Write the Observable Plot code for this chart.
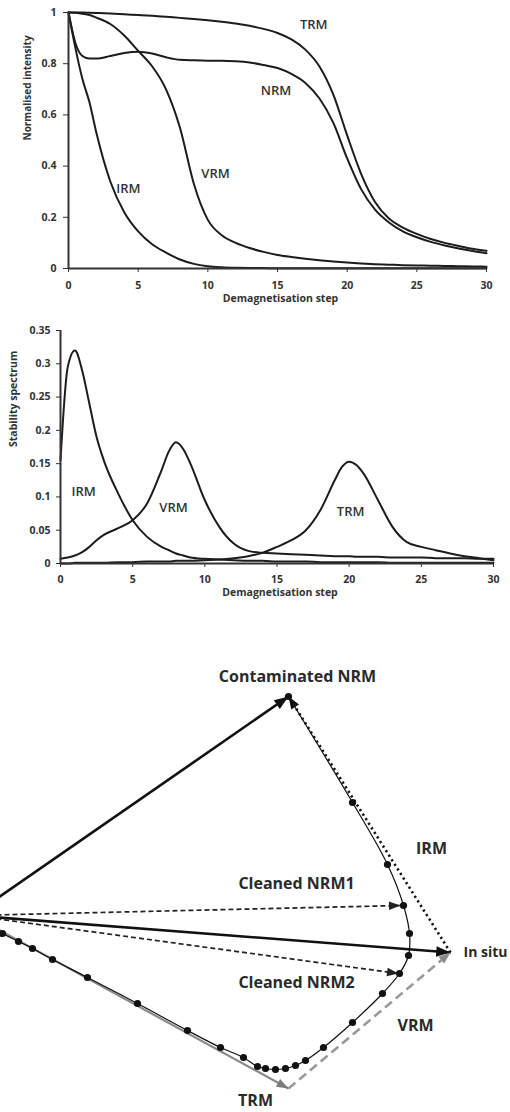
<!DOCTYPE html>
<html><head><meta charset="utf-8">
<script src="https://cdn.jsdelivr.net/npm/d3@7"></script>
<script src="https://cdn.jsdelivr.net/npm/@observablehq/plot@0.6"></script>
<style>
body{margin:0;background:#fff;}
#wrap{width:510px;height:1112px;overflow:hidden;background:#fff;}
#wrap svg{display:block;}
</style></head><body><div id="wrap"></div>
<script>
// ---------- Panel 1: normalised intensity ----------
const steps1 = [0,0.5,1,1.5,2,3,4,5,6,7,8,9,10,11,12,13,14,15,16,17,18,19,20,21,22,23,24,25,26,27,28,29,30];
const trm1 = [1,1,1,0.999,0.998,0.996,0.993,0.99,0.987,0.983,0.979,0.975,0.97,0.964,0.957,0.948,0.936,0.92,0.895,0.855,0.79,0.68,0.52,0.37,0.26,0.195,0.16,0.135,0.115,0.1,0.088,0.077,0.069];
const nrm1 = [1,0.88,0.83,0.82,0.82,0.83,0.842,0.847,0.84,0.825,0.815,0.813,0.812,0.812,0.81,0.805,0.795,0.783,0.76,0.725,0.665,0.57,0.43,0.31,0.23,0.18,0.145,0.122,0.104,0.09,0.078,0.068,0.06];
const vrm1 = [1,0.999,0.995,0.99,0.98,0.955,0.91,0.85,0.79,0.7,0.55,0.33,0.19,0.13,0.1,0.08,0.065,0.053,0.045,0.038,0.032,0.027,0.023,0.02,0.017,0.015,0.013,0.012,0.011,0.01,0.009,0.008,0.007];
const irm1 = [1,0.86,0.74,0.65,0.53,0.34,0.22,0.145,0.095,0.062,0.035,0.018,0.009,0.005,0.003,0.002,0.0015,0.001,0.001,0.001,0.001,0.001,0.001,0.001,0.001,0.001,0.001,0.001,0.001,0.001,0.001,0.001,0.001];
const ticks1Y = [0,0.2,0.4,0.6,0.8,1];
const ticksX = [0,5,10,15,20,25,30];
const labels1 = ["TRM","NRM","VRM","IRM"];
const labels1Step = [17.6,14.9,10.55,4.3];
const labels1Val = [0.95,0.695,0.37,0.31];

// ---------- Panel 2: stability spectrum ----------
const steps2 = [0,0.5,1,1.5,2,2.5,3,4,5,6,7,7.5,8,8.5,9,10,11,12,13,14,15,16,17,18,19,19.5,20,20.5,21,22,23,24,25,26,27,28,29,30];
const irm2 = [0.155,0.295,0.32,0.29,0.24,0.19,0.155,0.105,0.065,0.04,0.025,0.02,0.015,0.012,0.009,0.007,0.006,0.005,0.004,0.004,0.003,0.003,0.003,0.002,0.002,0.002,0.002,0.002,0.002,0.002,0.001,0.001,0.001,0.001,0.001,0.001,0.001,0.001];
const vrm2 = [0.007,0.009,0.012,0.017,0.025,0.035,0.043,0.053,0.065,0.09,0.14,0.168,0.182,0.172,0.15,0.095,0.055,0.03,0.019,0.016,0.015,0.014,0.013,0.012,0.011,0.011,0.011,0.01,0.01,0.01,0.009,0.009,0.009,0.008,0.008,0.008,0.007,0.007];
const trm2 = [0,0,0.001,0.001,0.001,0.001,0.001,0.002,0.002,0.003,0.003,0.003,0.004,0.004,0.004,0.005,0.006,0.008,0.011,0.016,0.025,0.035,0.05,0.08,0.125,0.145,0.153,0.148,0.135,0.095,0.055,0.032,0.025,0.02,0.015,0.011,0.008,0.005];
const ticks2Y = [0,0.05,0.1,0.15,0.2,0.25,0.3,0.35];
const labels2 = ["IRM","VRM","TRM"];
const labels2Step = [1.6,7.83,20.1];
const labels2Val = [0.107,0.083,0.077];

// ---------- Panel 3: vector diagram (components, arbitrary units) ----------
const origin = [0,0];
const trmVec = [3.16,-1.73];
const inSituVec = [4.78,-0.37];
const nrmVec = [3.16,2.19];
const cleaned1Vec = [4.28,0.10];
const cleaned2Vec = [4.26,-0.58];
const pathX = [3.16,3.80,4.15,4.31,4.37,4.36,4.27,4.10,3.80,3.51,3.33,3.23,3.13,3.03,2.93,2.85,2.71,2.48,2.15,1.65,1.15,0.80,0.60,0.46,0.30,0];
const pathY = [2.19,1.13,0.51,0.10,-0.18,-0.40,-0.58,-0.78,-1.07,-1.32,-1.45,-1.50,-1.53,-1.54,-1.53,-1.51,-1.42,-1.32,-1.15,-0.88,-0.62,-0.44,-0.33,-0.26,-0.18,0];
const diagLabels = ["Contaminated NRM","IRM","Cleaned NRM1","Cleaned NRM2","VRM","TRM"];
const diagLabelX = [3.25,4.59,3.24,3.24,4.43,2.83];
const diagLabelY = [2.39,0.67,0.32,-0.67,-1.10,-1.85];
const inSituLabel = "In situ";

// ---------- helpers ----------
const FONT = "'Open Sans', 'DejaVu Sans', sans-serif";
const fmt = d => String(+d.toFixed(2));
function tidy(steps, seriesMap) {
  const rows = [];
  for (const [name, vals] of Object.entries(seriesMap))
    steps.forEach((s, i) => rows.push({series: name, step: s, v: vals[i]}));
  return rows;
}

const wrap = document.getElementById("wrap");

// Panel 1
const rows1 = tidy(steps1, {TRM: trm1, NRM: nrm1, VRM: vrm1, IRM: irm1});
wrap.appendChild(Plot.plot({
  width: 510, height: 305,
  marginLeft: 68, marginRight: 24, marginTop: 12, marginBottom: 37,
  style: {fontFamily: FONT, background: "#fff", color: "#333"},
  x: {domain: [0, 30]},
  y: {domain: [0, 1]},
  marks: [
    Plot.axisY({ticks: ticks1Y, tickFormat: fmt, tickSize: 5, tickPadding: 7, label: null, fontSize: 10.5, fontWeight: "bold", fill: "#333", stroke: "#333"}),
    Plot.axisX({ticks: ticksX, tickSize: 4, tickPadding: 9, label: null, fontSize: 10.5, fontWeight: "bold", fill: "#333", stroke: "#333"}),
    Plot.line(rows1, {x: "step", y: "v", z: "series", curve: "monotone-x", stroke: "#1c1c1c", strokeWidth: 2}),
    Plot.ruleX([0], {stroke: "#333", strokeWidth: 2}),
    Plot.ruleY([0], {stroke: "#333", strokeWidth: 2}),
    Plot.text(labels1, {x: (d, i) => labels1Step[i], y: (d, i) => labels1Val[i], text: d => d, fontSize: 13, fontWeight: 600, fill: "#333"}),
    Plot.text(["Normalised intensity"], {frameAnchor: "left", dx: -41, rotate: -90, text: d => d, fontSize: 10, fontWeight: "bold", fill: "#333"}),
    Plot.text(["Demagnetisation step"], {frameAnchor: "bottom", dx: 3, dy: 33, text: d => d, fontSize: 10.5, fontWeight: "bold", fill: "#333"})
  ]
}));

// Panel 2
const rows2 = tidy(steps2, {IRM: irm2, VRM: vrm2, TRM: trm2});
wrap.appendChild(Plot.plot({
  width: 510, height: 300,
  marginLeft: 60, marginRight: 17, marginTop: 25, marginBottom: 42,
  style: {fontFamily: FONT, background: "#fff", color: "#333"},
  x: {domain: [0, 30]},
  y: {domain: [0, 0.35]},
  marks: [
    Plot.axisY({ticks: ticks2Y, tickFormat: fmt, tickSize: 4, tickPadding: 6, label: null, fontSize: 10.5, fontWeight: "bold", fill: "#333", stroke: "#333"}),
    Plot.axisX({ticks: ticksX, tickSize: 4, tickPadding: 8, label: null, fontSize: 10.5, fontWeight: "bold", fill: "#333", stroke: "#333"}),
    Plot.line(rows2, {x: "step", y: "v", z: "series", curve: "monotone-x", stroke: "#1c1c1c", strokeWidth: 2}),
    Plot.ruleX([0], {stroke: "#333", strokeWidth: 2}),
    Plot.ruleY([0], {stroke: "#333", strokeWidth: 2}),
    Plot.text(labels2, {x: (d, i) => labels2Step[i], y: (d, i) => labels2Val[i], text: d => d, fontSize: 13, fontWeight: 600, fill: "#333"}),
    Plot.text(["Stability spectrum"], {frameAnchor: "left", dx: -47, rotate: -90, text: d => d, fontSize: 10.5, fontWeight: "bold", fill: "#333"}),
    Plot.text(["Demagnetisation step"], {frameAnchor: "bottom", dx: 3, dy: 32, text: d => d, fontSize: 10.5, fontWeight: "bold", fill: "#333"})
  ]
}));

// Panel 3
const arrows = [
  {name: "NRM",       from: origin,    to: nrmVec},
  {name: "In situ",   from: origin,    to: inSituVec},
  {name: "Cleaned1",  from: origin,    to: cleaned1Vec},
  {name: "Cleaned2",  from: origin,    to: cleaned2Vec},
  {name: "TRM",       from: origin,    to: trmVec},
  {name: "VRM",       from: trmVec,    to: inSituVec},
  {name: "IRM",       from: inSituVec, to: nrmVec}
];
const styles = {
  "NRM":      {stroke: "#111", width: 2.6, dash: null,     head: 6.2, color: "#111"},
  "In situ":  {stroke: "#111", width: 2.6, dash: null,     head: 6.2, color: "#111"},
  "Cleaned1": {stroke: "#222", width: 1.7, dash: "5,3",    head: 5,   color: "#222"},
  "Cleaned2": {stroke: "#222", width: 1.7, dash: "5,3",    head: 5,   color: "#222"},
  "TRM":      {stroke: "#8a8a8a", width: 2.2, dash: null,  head: 5.2, color: "#7a7a7a"},
  "VRM":      {stroke: "#9a9a9a", width: 2.6, dash: "9,5", head: 5.2, color: "#8a8a8a"},
  "IRM":      {stroke: "#111", width: 2.6, dash: "2.2,3.2",head: 5.4, color: "#111"}
};
const headSymbol = {
  draw(ctx, size) {
    const r = Math.sqrt(size / Math.PI);
    const L = 2.3 * r, w = 0.85 * r;
    ctx.moveTo(0, 0); ctx.lineTo(w, L); ctx.lineTo(-w, L); ctx.closePath();
  }
};
const angle = a => Math.atan2(-(a.to[1] - a.from[1]), a.to[0] - a.from[0]) * 180 / Math.PI + 90;
const pathPts = pathX.map((x, i) => ({x, y: pathY[i]}));

const diagMarks = [];
for (const a of arrows) {
  const s = styles[a.name];
  diagMarks.push(Plot.link([a], {x1: d => d.from[0], y1: d => d.from[1], x2: d => d.to[0], y2: d => d.to[1],
    stroke: s.stroke, strokeWidth: s.width, strokeDasharray: s.dash || undefined, strokeLinecap: "butt"}));
}
diagMarks.push(Plot.line(pathPts, {x: "x", y: "y", curve: "catmull-rom", stroke: "#111", strokeWidth: 1.2}));
diagMarks.push(Plot.dot(pathPts, {x: "x", y: "y", r: 3.6, fill: "#111", stroke: "none"}));
for (const a of arrows) {
  const s = styles[a.name];
  diagMarks.push(Plot.dot([a], {x: d => d.to[0], y: d => d.to[1], rotate: angle, symbol: headSymbol, r: s.head, fill: s.color, stroke: "none"}));
}
diagMarks.push(Plot.text(diagLabels, {x: (d, i) => diagLabelX[i], y: (d, i) => diagLabelY[i], text: d => d, fontSize: 16, fontWeight: "bold", fill: "#2a2a2a"}));
diagMarks.push(Plot.text([inSituLabel], {x: inSituVec[0], y: inSituVec[1], text: d => d, dx: 13, textAnchor: "start", fontSize: 14, fontWeight: "bold", fill: "#2a2a2a"}));

wrap.appendChild(Plot.plot({
  width: 510, height: 507, margin: 0,
  style: {fontFamily: FONT, background: "#fff", overflow: "hidden"},
  x: {domain: [0.28, 5.38], range: [0, 510], axis: null},
  y: {domain: [-1.97, 3.10], range: [507, 0], axis: null},
  marks: diagMarks
}));
</script></body></html>
